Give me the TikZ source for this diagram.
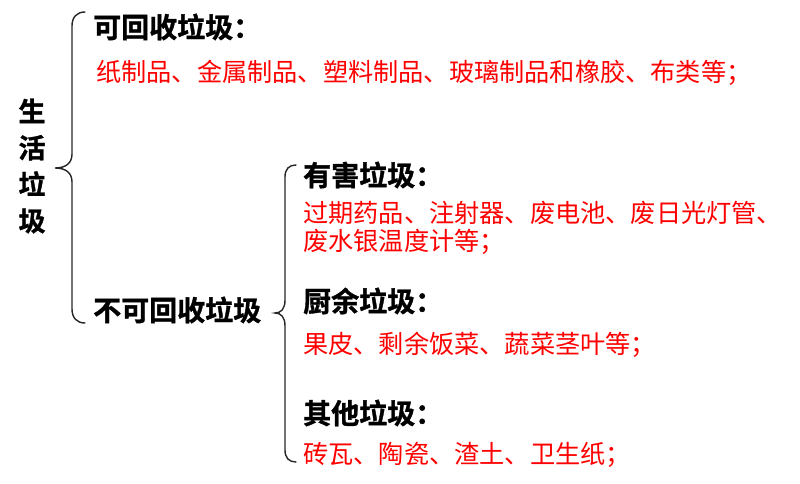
\documentclass[tikz,border=0pt]{standalone}
\usepackage{fontspec}
\newfontfamily\cjk{Noto Sans CJK SC}
\newfontfamily\cjkb[FakeBold=1.2]{Noto Sans CJK SC Bold}
\begin{document}
\begin{tikzpicture}[x=1pt,y=-1pt,
  head/.style={inner sep=0pt,anchor=west,font=\cjkb\fontsize{28}{30}\selectfont,text=black},
  item/.style={inner sep=0pt,anchor=west,font=\cjk\fontsize{25.2}{29}\selectfont,text=red},
  bracestyle/.style={draw=black!85,line width=1.4pt,line cap=round}]
\useasboundingbox (0,0) rectangle (800,484);
\fill[white] (0,0) rectangle (800,484);
% vertical title
\node[inner sep=0pt,font=\cjkb\fontsize{27}{36.5}\selectfont,align=center] (root) at (32,166) {生\\活\\垃\\圾};
% brace 1
\coordinate (b1tip) at (55,168);
\draw[bracestyle] (85,12) .. controls (77,12) and (72,17) .. (72,26) -- (72,154)
  .. controls (72,163) and (66,168) .. (b1tip)
  .. controls (66,168) and (72,173) .. (72,182) -- (72,309)
  .. controls (72,318) and (77,323) .. (85,323);
\node[head] (rec) at (93,27) {可回收垃圾：};
\node[item] (recitems) at (96,73) {纸制品、金属制品、塑料制品、玻璃制品和橡胶、布类等；};
\node[head] (nonrec) at (93,310) {不可回收垃圾};
% brace 2
\coordinate (b2tip) at (275,313);
\draw[bracestyle] (296,165) .. controls (289,165) and (285,169) .. (285,177) -- (285,300)
  .. controls (285,309) and (281,313) .. (b2tip)
  .. controls (281,313) and (285,317) .. (285,326) -- (285,450)
  .. controls (285,458) and (289,462) .. (296,462);
\node[head] (haz) at (303,175) {有害垃圾：};
\node[item] (hazitems1) at (303,213) {过期药品、注射器、废电池、废日光灯管、};
\node[item] (hazitems2) at (303,242) {废水银温度计等；};
\node[head] (kit) at (303,301) {厨余垃圾：};
\node[item] (kititems) at (303,345) {果皮、剩余饭菜、蔬菜茎叶等；};
\node[head] (oth) at (303,413) {其他垃圾：};
\node[item] (othitems) at (303,455) {砖瓦、陶瓷、渣土、卫生纸；};
\end{tikzpicture}
\end{document}
